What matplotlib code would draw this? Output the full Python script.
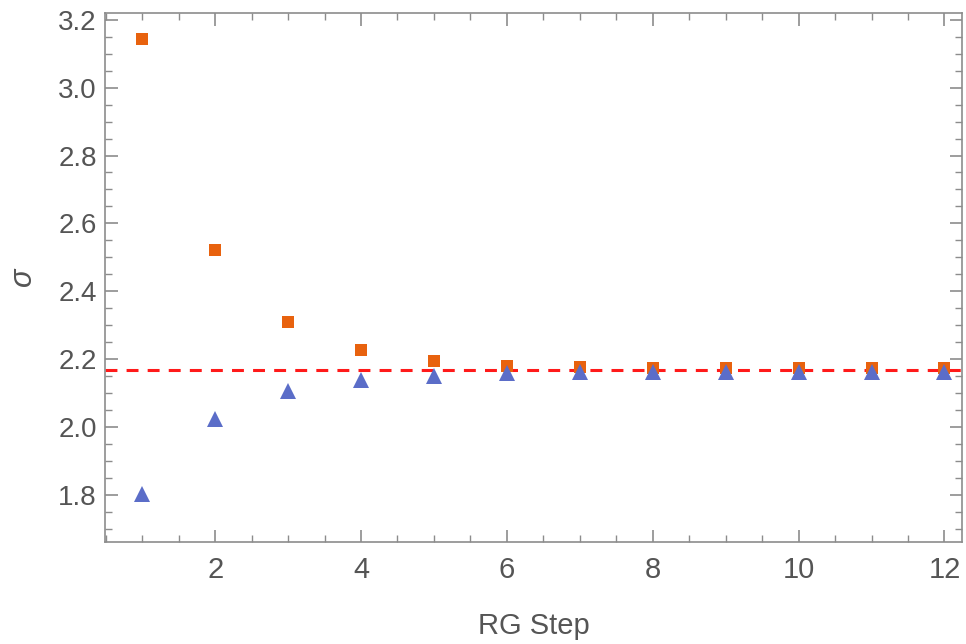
import matplotlib.pyplot as plt
from matplotlib.ticker import MultipleLocator

plt.rcParams['font.family'] = ['Liberation Sans', 'DejaVu Sans']
plt.rcParams['mathtext.fontset'] = 'custom'
plt.rcParams['mathtext.it'] = 'Liberation Sans:italic'

# RG step data
steps = [1, 2, 3, 4, 5, 6, 7, 8, 9, 10, 11, 12]
sigma_upper = [3.143, 2.521, 2.308, 2.227, 2.194, 2.181, 2.176, 2.174, 2.173, 2.173, 2.173, 2.173]
sigma_lower = [1.802, 2.024, 2.107, 2.139, 2.151, 2.158, 2.161, 2.162, 2.163, 2.163, 2.163, 2.163]
sigma_fixed = 2.168

tick_col = '#555555'
frame_col = '#8c8c8c'

fig = plt.figure(figsize=(9.66, 6.44), dpi=100)
ax = fig.add_axes([105 / 966, 1 - 542 / 644, (962 - 105) / 966, (542 - 13) / 644])

ax.axhline(sigma_fixed, color='#ff1a1a', linestyle=(0, (3.9, 3.0)), linewidth=2.2, zorder=1)
ax.plot(steps, sigma_upper, 's', color='#e8620e', markersize=8.5, markeredgewidth=0, zorder=2)
ax.plot(steps, sigma_lower, '^', color='#5b6dc8', markersize=11, markeredgewidth=0, zorder=3)

ax.set_xlim(0.49, 12.24)
ax.set_ylim(1.661, 3.22)

ax.xaxis.set_major_locator(MultipleLocator(2))
ax.xaxis.set_minor_locator(MultipleLocator(0.5))
ax.yaxis.set_major_locator(MultipleLocator(0.2))
ax.yaxis.set_minor_locator(MultipleLocator(0.05))

ax.tick_params(which='both', direction='in', top=True, right=True, color=frame_col,
               labelcolor=tick_col)
ax.tick_params(which='major', length=9, width=1.2)
ax.tick_params(which='minor', length=5, width=1)
ax.tick_params(axis='x', pad=10, labelsize=21)
ax.tick_params(axis='y', pad=6, labelsize=20)
ax.set_xticks([2, 4, 6, 8, 10, 12])
ax.set_xticklabels(['2', '4', '6', '8', '10', '12'])

for s in ax.spines.values():
    s.set_color(frame_col)
    s.set_linewidth(1.2)

ax.set_xlabel('RG Step', fontsize=21, color=tick_col, labelpad=20)
ax.set_ylabel(r'$\sigma$', fontsize=22, color=tick_col, labelpad=14)

fig.savefig('out.png', dpi=100)
